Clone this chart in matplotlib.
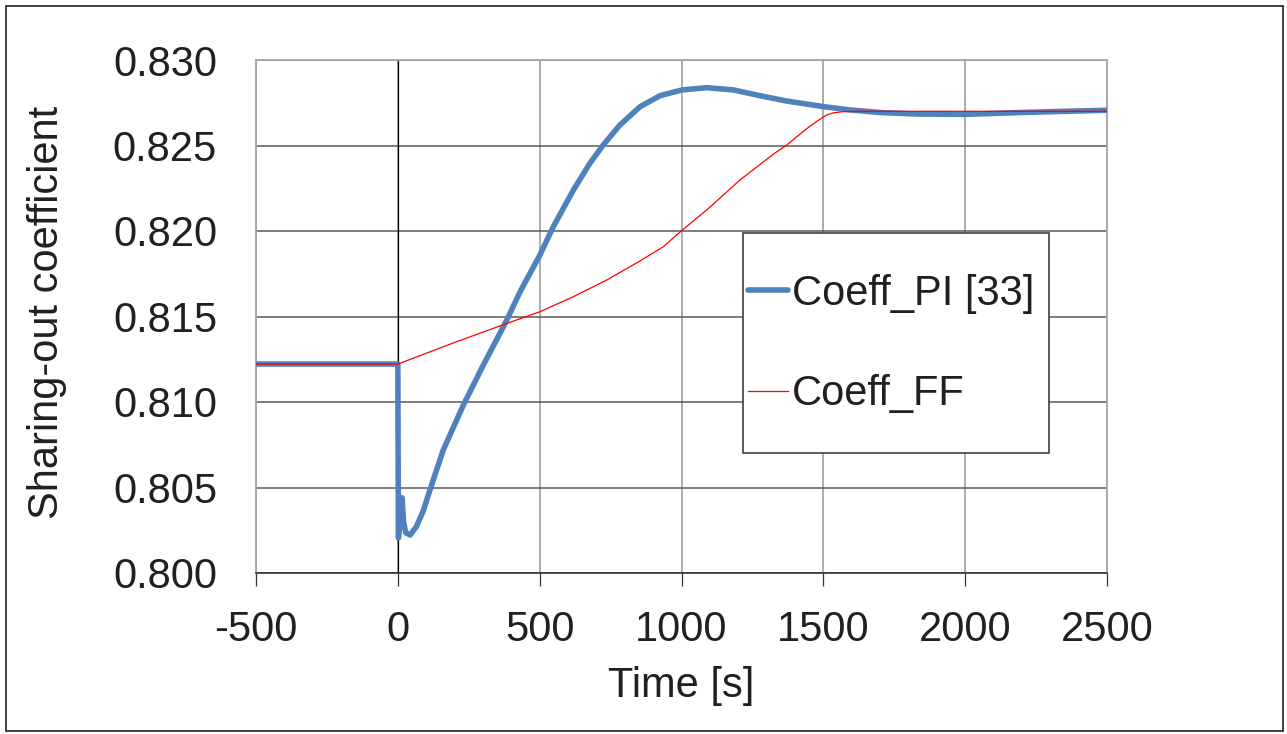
import matplotlib
matplotlib.use('Agg')
import matplotlib.pyplot as plt
from matplotlib.patches import Rectangle
from matplotlib.ticker import FormatStrFormatter

plt.rcParams['font.family'] = ['Liberation Sans', 'DejaVu Sans']
plt.rcParams['axes.unicode_minus'] = False

# Coeff_PI [33] response
t_pi = [-500, 0, 2, 8, 15, 20, 28, 43, 65, 90, 113, 160, 231, 301, 372, 390,
        431, 501, 548, 619, 677, 724, 783, 854, 924, 1002, 1089, 1183, 1277,
        1371, 1502, 1594, 1700, 1829, 2000, 2181, 2350, 2500]
coeff_pi = [0.81222, 0.81222, 0.80205, 0.8030, 0.8044, 0.8030, 0.80235, 0.80222,
            0.8027, 0.80365, 0.80485, 0.80719, 0.80982, 0.81215, 0.81440, 0.8150,
            0.81645, 0.81860, 0.82025, 0.82240, 0.82396, 0.82503, 0.82620,
            0.82727, 0.82791, 0.82825, 0.82838, 0.82825, 0.82791, 0.82760,
            0.82727, 0.82708, 0.82693, 0.82684, 0.82682, 0.82692, 0.82700,
            0.82706]

# Coeff_FF response
t_ff = [-500, 0, 200, 378, 501, 619, 736, 854, 936, 1003, 1089, 1206, 1324,
        1371, 1441, 1480, 1510, 1535, 1570, 1629, 2000, 2500]
coeff_ff = [0.81222, 0.81222, 0.81348, 0.81456, 0.81528, 0.81616, 0.81713,
            0.81825, 0.81908, 0.82006, 0.82123, 0.82298, 0.82450, 0.82503,
            0.82598, 0.82645, 0.82677, 0.82691, 0.82698, 0.82700, 0.82700,
            0.82700]

x_ticks = [-500, 0, 500, 1000, 1500, 2000, 2500]
y_ticks = [0.800, 0.805, 0.810, 0.815, 0.820, 0.825, 0.830]

W, H = 1287, 734
fig = plt.figure(figsize=(W / 100, H / 100), dpi=100)
ax = fig.add_axes([256 / W, 1 - 573 / H, 851 / W, 513 / H])

l1, = ax.plot(t_pi, coeff_pi, color='#4F81BD', lw=4.0, solid_capstyle='round',
              solid_joinstyle='round', label='Coeff_PI [33]', zorder=4)
l2, = ax.plot(t_ff, coeff_ff, color='#FF0000', lw=0.9, label='Coeff_FF', zorder=5)

ax.set_xlim(-500, 2500)
ax.set_ylim(0.800, 0.830)
ax.set_xticks(x_ticks)
ax.set_yticks(y_ticks)
ax.yaxis.set_major_formatter(FormatStrFormatter('%.3f'))

# grid: dark horizontal, light vertical, black zero line
ax.grid(axis='y', color='#5a5a5a', lw=1.1)
ax.grid(axis='x', color='#a6a6a6', lw=1.3)
ax.axvline(0, color='black', lw=0.9, zorder=2)
ax.set_axisbelow(True)

for s in ['left', 'top', 'right']:
    ax.spines[s].set_color('#a6a6a6')
    ax.spines[s].set_linewidth(1.3)
ax.spines['bottom'].set_color('#333333')
ax.spines['bottom'].set_linewidth(1.2)

ax.tick_params(axis='x', length=9.4, width=0.9, color='#333333', pad=17,
               labelsize=30, labelcolor='#231f20')
ax.tick_params(axis='y', length=0, pad=28, labelsize=30, labelcolor='#231f20')

ax.set_xlabel('Time [s]', fontsize=30, color='#231f20')
ax.xaxis.label.set_va('baseline')
ax.xaxis.set_label_coords(0.5, (573 - 697) / 513)
ax.set_ylabel('Sharing-out coefficient', fontsize=30, color='#231f20')
ax.yaxis.label.set_va('center')
ax.yaxis.set_label_coords((47 - 256) / 851, (573 - 312) / 513)

# legend box
fig.add_artist(Rectangle((743 / W, 1 - 453 / H), 306 / W, 220 / H,
                         transform=fig.transFigure, facecolor='white',
                         edgecolor='#404040', lw=1.2, zorder=4))
fig.legend(handles=[l1, l2], loc='center left',
           bbox_to_anchor=(748 / W, 1 - 344 / H), bbox_transform=fig.transFigure,
           frameon=False, fontsize=30, handlelength=0.95, handletextpad=0.1,
           labelspacing=1.45, borderpad=0, borderaxespad=0,
           labelcolor='#231f20')

# outer frame
fig.add_artist(Rectangle((6 / W, 1 - 731 / H), 1277 / W, 725 / H,
                         transform=fig.transFigure, fill=False,
                         edgecolor='#231f20', lw=1.2))

fig.savefig('out.png', dpi=100)
